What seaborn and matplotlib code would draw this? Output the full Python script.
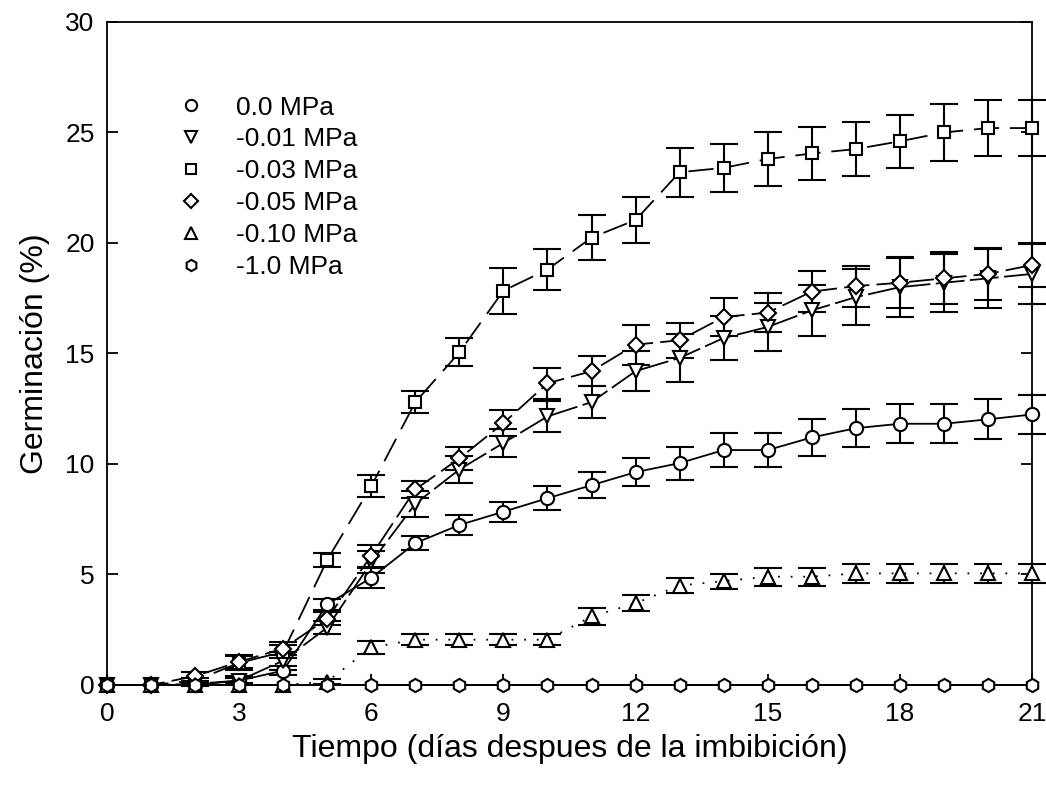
import numpy as np
import pandas as pd
import matplotlib
matplotlib.use("Agg")
import matplotlib.pyplot as plt
import seaborn as sns

days = list(range(22))
labels = ["0.0 MPa", "-0.01 MPa", "-0.03 MPa", "-0.05 MPa", "-0.10 MPa", "-1.0 MPa"]

g_00 = [0, 0, 0, 0.2, 0.65, 3.65, 4.85, 6.42, 7.24, 7.84, 8.45, 9.04, 9.63, 10.04, 10.63, 10.63, 11.2, 11.62, 11.82, 11.82, 12.02, 12.24]
e_00 = [0, 0, 0, 0.1, 0.2, 0.25, 0.45, 0.3, 0.45, 0.45, 0.54, 0.58, 0.63, 0.75, 0.77, 0.77, 0.85, 0.87, 0.89, 0.89, 0.91, 0.9]
g_001 = [0, 0, 0.05, 0.2, 1.1, 2.6, 5.55, 8.2, 9.75, 10.95, 12.15, 12.8, 14.2, 14.8, 15.7, 16.2, 16.95, 17.55, 18.0, 18.2, 18.4, 18.6]
e_001 = [0, 0, 0.1, 0.2, 0.4, 0.3, 0.5, 0.6, 0.6, 0.65, 0.7, 0.72, 0.9, 1.1, 1.0, 1.1, 1.16, 1.27, 1.36, 1.31, 1.33, 1.36]
g_003 = [0, 0, 0.2, 1.0, 1.5, 5.66, 9.0, 12.8, 15.05, 17.84, 18.8, 20.24, 21.04, 23.2, 23.4, 23.8, 24.05, 24.25, 24.6, 25.0, 25.2, 25.2]
e_003 = [0, 0, 0.1, 0.3, 0.3, 0.3, 0.5, 0.5, 0.63, 1.05, 0.93, 1.03, 1.04, 1.12, 1.1, 1.2, 1.18, 1.21, 1.2, 1.27, 1.25, 1.25]
g_005 = [0, 0, 0.4, 1.05, 1.65, 3.0, 5.85, 8.85, 10.25, 11.85, 13.65, 14.2, 15.4, 15.6, 16.65, 16.85, 17.8, 18.05, 18.2, 18.4, 18.6, 19.0]
e_005 = [0, 0, 0.2, 0.3, 0.3, 0.3, 0.5, 0.4, 0.5, 0.6, 0.69, 0.68, 0.9, 0.8, 0.85, 0.9, 0.93, 0.93, 1.13, 1.18, 1.18, 1.0]
g_010 = [0, 0, 0, 0, 0, 0.15, 1.7, 2.05, 2.05, 2.05, 2.05, 3.1, 3.7, 4.5, 4.7, 4.9, 4.9, 5.05, 5.05, 5.05, 5.05, 5.05]
e_010 = [0, 0, 0, 0, 0, 0.1, 0.3, 0.25, 0.25, 0.25, 0.25, 0.4, 0.36, 0.32, 0.34, 0.4, 0.4, 0.44, 0.44, 0.44, 0.44, 0.44]
g_100 = [0] * 22
e_100 = [0] * 22

sns.set_theme(style="white")
plt.rcParams["font.family"] = ["Liberation Sans", "DejaVu Sans"]
plt.rcParams["text.color"] = "black"
plt.rcParams["axes.labelcolor"] = "black"

fig = plt.figure(figsize=(10.46, 7.85), dpi=100)
ax = fig.add_axes([0.1023, 0.1274, 0.8843, 0.8446])

series = [
    (g_00, e_00, "o", None, 9.5),
    (g_001, e_001, "v", (16, 3), 9.5),
    (g_003, e_003, "s", (14, 6), 8.0),
    (g_005, e_005, "D", (14, 4), 8.0),
    (g_010, e_010, "^", (1, 6), 9.5),
    (g_100, e_100, "h", None, 9.5),
]

handles = []
for (vals, errs, mk, dash, ms), lab in zip(series, labels):
    df = pd.DataFrame({"day": days, "g": vals, "e": errs})
    sub = df[df["e"] > 0]
    if len(sub):
        eb = ax.errorbar(sub["day"], sub["g"], yerr=sub["e"], fmt="none", ecolor="black",
                         elinewidth=1.5, capsize=10, capthick=1.5, zorder=2)
        for art in eb.get_children():
            art.set_clip_on(False)
    kw = {}
    if dash is not None:
        kw["dashes"] = dash
    sns.lineplot(data=df, x="day", y="g", ax=ax, color="black", lw=1.3,
                 marker=mk, markersize=ms, markerfacecolor="white",
                 markeredgecolor="black", markeredgewidth=1.5, zorder=3,
                 legend=False, clip_on=False, **kw)
    h, = ax.plot([], [], ls="none", marker=mk, markersize=ms * 0.85,
                 markerfacecolor="white", markeredgecolor="black",
                 markeredgewidth=1.5, label=lab)
    handles.append(h)

ax.set_xlim(0, 21)
ax.set_ylim(0, 30)
ax.set_xticks(range(0, 22, 3))
ax.set_yticks(range(0, 31, 5))
ax.tick_params(axis="both", direction="in", length=8, width=1.3,
               labelsize=19, colors="black")
ax.tick_params(axis="y", right=True, left=True, pad=9)
ax.tick_params(axis="x", bottom=True, top=False, pad=12)
for s in ax.spines.values():
    s.set_color("black")
    s.set_linewidth(1.3)

ax.set_xlabel("Tiempo (días despues de la imbibición)", fontsize=23, labelpad=6, color="black")
ax.set_ylabel("Germinación (%)", fontsize=23, labelpad=11, color="black")

ax.legend(handles=handles, loc="upper left", bbox_to_anchor=(0.065, 0.905),
          frameon=False, fontsize=19, handlelength=1.0, handletextpad=1.2,
          labelspacing=0.3, borderaxespad=0, labelcolor="black")

fig.savefig("out.png", dpi=100)
